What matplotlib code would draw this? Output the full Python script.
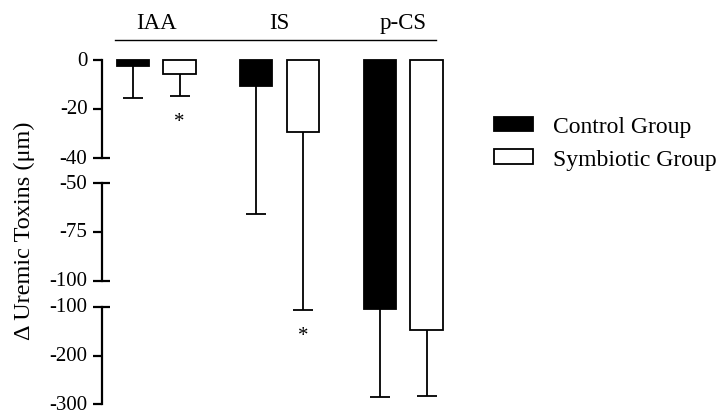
import numpy as np
import matplotlib
matplotlib.use("Agg")
import matplotlib.pyplot as plt

plt.rcParams['font.family'] = ['Liberation Serif', 'DejaVu Serif']
plt.rcParams['font.size'] = 16

# data (change in uremic toxins, mean and lower SD)
toxins = ['IAA', 'IS', 'p-CS']
control_mean = [-2.3, -10.7, -104.7]
control_sd = [13.2, 55.1, 181.0]
symbiotic_mean = [-5.6, -29.3, -147.0]
symbiotic_sd = [9.0, 77.4, 136.7]
significant = [True, True, False]  # symbiotic vs baseline

W, H = 720, 414
PX = 100 / 72  # pixels per point
fig = plt.figure(figsize=(W / 100, H / 100), dpi=100)

def frac_box(left, right, top, bottom):
    return [left / W, 1 - bottom / H, (right - left) / W, (bottom - top) / H]

def ylim_from(v_a, p_a, v_b, p_b, top, bottom):
    k = (p_b - p_a) / (v_a - v_b)  # pixels per unit
    return v_a - (bottom - p_a) / k, v_a + (p_a - top) / k

# broken y axis: (tick value a, pixel a, tick value b, pixel b, axes top, axes bottom)
segments = [
    (0, 61, -40, 159, 45, 171.7, [0, -20, -40]),
    (-50, 184.3, -100, 281.7, 171.7, 283, [-50, -75, -100]),
    (-100, 307.7, -300, 405.3, 283, 412, [-100, -200, -300]),
]

x = np.arange(len(toxins))
off = 0.189
width = 0.26
x_left, x_right = 102, 450
xlim = ((x_left - 279.7) / 123.5 + 1, (x_right - 279.7) / 123.5 + 1)

axes = []
owned_hi = np.inf
for v_a, p_a, v_b, p_b, top, bottom, ticks in segments:
    ax = fig.add_axes(frac_box(x_left, x_right, top, bottom))
    lo, hi = ylim_from(v_a, p_a, v_b, p_b, top, bottom)
    ax.set_ylim(lo, hi)
    ax.set_xlim(*xlim)
    ax.patch.set_visible(False)
    for s in ['top', 'right', 'bottom']:
        ax.spines[s].set_visible(False)
    ax.spines['left'].set_bounds(min(ticks), max(ticks))
    ax.spines['left'].set_linewidth(1.6)
    ax.set_xticks([])
    ax.set_yticks(ticks)
    ax.set_yticklabels([str(t) for t in ticks], va='center')
    ax.tick_params(axis='y', length=6.5, width=1.6, pad=4, labelsize=15)
    # break ends: tick also pokes inwards
    ax.yaxis.remove_overlapping_locs = False
    ends = [t for t in [min(ticks), max(ticks)] if t != 0 and t != -300]
    ax.set_yticks(ends, minor=True)
    ax.tick_params(axis='y', which='minor', direction='in', length=6, width=1.6)

    own_lo, own_top = lo, min(hi, owned_hi)
    span = hi - lo

    def f(v, own_top=own_top, lo=lo, hi=hi, span=span):
        # values that belong to another segment are pushed far outside this one
        v = np.asarray(v, dtype=float)
        out = np.where(v > own_top, hi + 10 * span, v)
        return np.where(v < lo, lo - 10 * span, out)

    for means, sds, dx, fc in [(control_mean, control_sd, -off, 'black'),
                               (symbiotic_mean, symbiotic_sd, off, 'white')]:
        means = np.asarray(means)
        ends_v = means - np.asarray(sds)
        ax.bar(x + dx, f(means) - f(0), width, bottom=f(0), color=fc,
               edgecolor='black', linewidth=1.3, zorder=2)
        ax.vlines(x + dx, f(ends_v), f(means), color='black', lw=1.3, zorder=1)
        inside = (ends_v >= own_lo) & (ends_v <= own_top)
        ax.plot((x + dx)[inside], ends_v[inside], ls='none', marker='_',
                markersize=14.5, markeredgewidth=1.3, color='black', zorder=1)
    owned_hi = lo
    axes.append(ax)

# significance stars below symbiotic error bars
for i in range(len(toxins)):
    if not significant[i]:
        continue
    end = symbiotic_mean[i] - symbiotic_sd[i]
    for ax in axes:
        lo, hi = ax.get_ylim()
        if lo <= end <= hi:
            ax.annotate('*', (x[i] + off, end), xytext=(0, -18.5),
                        textcoords='offset points', ha='center', va='center',
                        fontsize=15, annotation_clip=False)
            break

# group header line and labels
hdr = fig.add_axes(frac_box(x_left, x_right, 5, 45))
hdr.set_xlim(*xlim)
hdr.set_ylim(0, 1)
hdr.axis('off')
hdr.plot([(115 - 279.7) / 123.5 + 1, (436 - 279.7) / 123.5 + 1], [0.11, 0.11],
         color='black', lw=1.0)
for i, name in enumerate(toxins):
    hdr.text(x[i], 0.27, name, ha='center', va='bottom', fontsize=16.5)

fig.text(24 / W, 1 - 231 / H, 'Δ Uremic Toxins (μm)', rotation=90,
         ha='center', va='center', fontsize=17.5)

lg_fs = 17
handles = [plt.Rectangle((0, 0), 1, 1, facecolor='black', edgecolor='black', lw=1.3),
           plt.Rectangle((0, 0), 1, 1, facecolor='white', edgecolor='black', lw=1.3)]
fig.legend(handles, ['Control Group', 'Symbiotic Group'], frameon=False,
           loc='upper left', bbox_to_anchor=(494 / W, 1 - 117 / H), borderpad=0,
           handlelength=39 / (lg_fs * PX), handleheight=13 / (lg_fs * PX),
           handletextpad=20 / (lg_fs * PX), labelspacing=0.5, fontsize=lg_fs,
           borderaxespad=0)

fig.savefig('out.png', dpi=100)
